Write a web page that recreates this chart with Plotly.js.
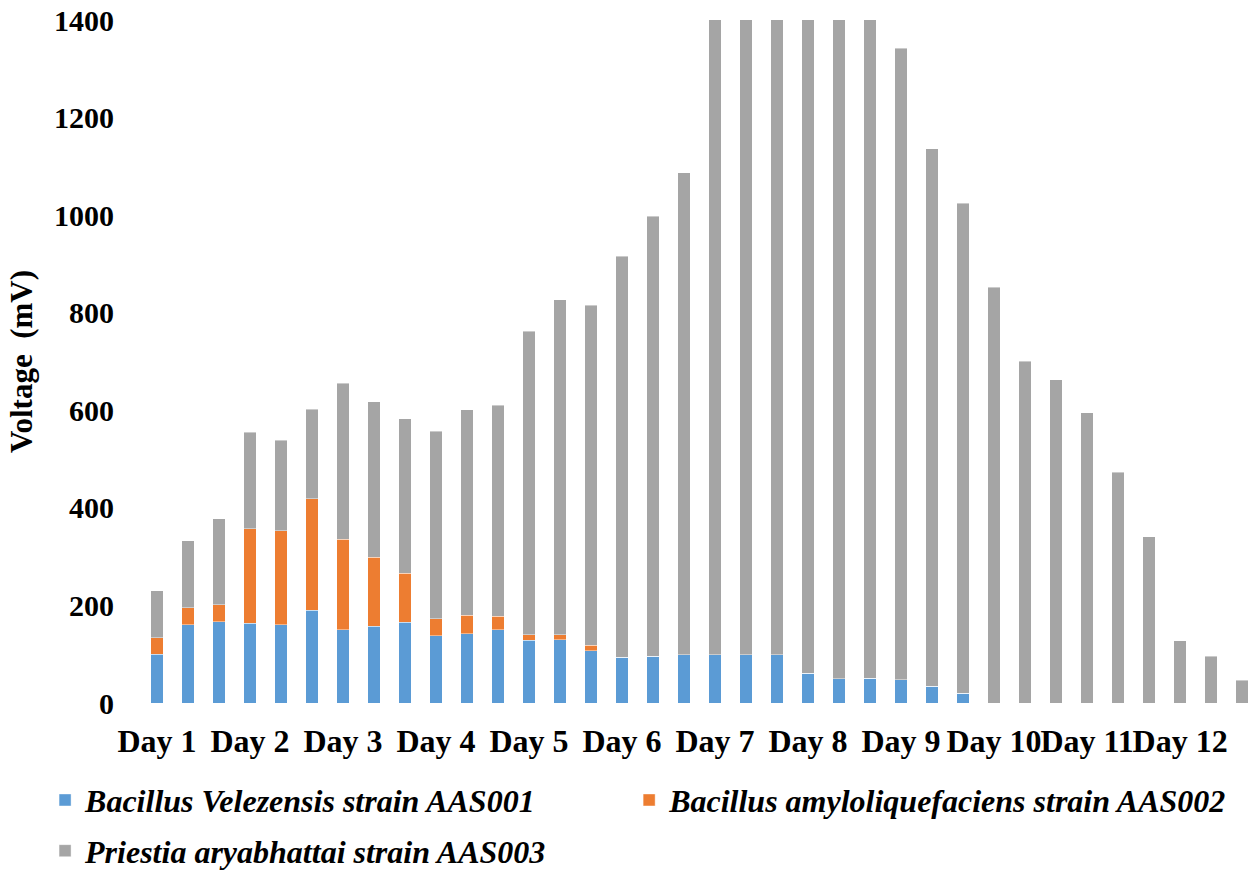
<!DOCTYPE html>
<html>
<head>
<meta charset="utf-8">
<script src="https://cdn.plot.ly/plotly-3.0.1.min.js"></script>
<style>
  html, body { margin: 0; padding: 0; background: #ffffff; }
  #chart { width: 1252px; height: 871px; }
</style>
</head>
<body>
<div id="chart"></div>
<script>
// Three readings per day over twelve days
const days = ["Day 1", "Day 2", "Day 3", "Day 4", "Day 5", "Day 6",
              "Day 7", "Day 8", "Day 9", "Day 10", "Day 11", "Day 12"];
const readingsPerDay = 3;

const seriesNames = [
  "Bacillus Velezensis strain AAS001",
  "Bacillus amyloliquefaciens strain AAS002",
  "Priestia aryabhattai strain AAS003"
];

// Voltage (mV) contributed by each strain, stacked
const velezensis = [100, 160, 167, 163, 160, 190, 150, 157, 166, 138, 142, 150,
                    129, 130, 107, 94, 96, 99, 99, 99, 99, 61, 50, 51,
                    48, 34, 20, 0, 0, 0, 0, 0, 0, 0, 0, 0];
const amyloliquefaciens = [34, 35, 34, 194, 193, 229, 186, 142, 100, 35, 38, 28,
                           11, 10, 11, 0, 0, 0, 0, 0, 0, 0, 0, 0,
                           0, 0, 0, 0, 0, 0, 0, 0, 0, 0, 0, 0];
const aryabhattai = [96, 138, 177, 198, 186, 183, 319, 318, 317, 384, 421, 432,
                     622, 687, 697, 822, 902, 988, 1321, 1361, 1401, 1429, 1400, 1359,
                     1294, 1102, 1004, 852, 701, 663, 595, 473, 341, 128, 96, 47];

const colors = ["#5B9BD5", "#ED7D31", "#A5A5A5"];
const values = [velezensis, amyloliquefaciens, aryabhattai];
const legendOf = ["legend", "legend2", "legend3"];

const positions = velezensis.map((_, i) => i);
const tickPositions = days.map((_, d) => d * readingsPerDay);

const serif = "Liberation Serif, Times New Roman, serif";

const traces = values.map((v, k) => ({
  type: "bar",
  name: "<i>" + seriesNames[k] + "</i>",
  legend: legendOf[k],
  x: positions,
  y: v,
  marker: { color: colors[k], line: { color: "rgba(255,255,255,0.7)", width: 0.6 } },
  hoverinfo: "y"
}));

const legendFont = { family: serif, size: 32, weight: "bold", color: "#000000" };
const legendBase = {
  orientation: "h",
  xref: "container",
  yref: "container",
  xanchor: "left",
  yanchor: "top",
  font: legendFont,
  bgcolor: "rgba(0,0,0,0)"
};

const layout = {
  width: 1252,
  height: 871,
  barmode: "stack",
  bargap: 0.6,
  paper_bgcolor: "#ffffff",
  plot_bgcolor: "#ffffff",
  margin: { l: 141, r: 0, t: 20, b: 168 },
  font: { family: serif, color: "#000000" },
  xaxis: {
    type: "linear",
    range: [-0.516, 35.32],
    tickmode: "array",
    tickvals: tickPositions,
    ticktext: days,
    tickangle: 0,
    ticks: "",
    showgrid: false,
    zeroline: false,
    showline: false,
    ticklabelstandoff: 16,
    tickfont: { family: serif, size: 32, weight: "bold", color: "#000000" }
  },
  yaxis: {
    range: [0, 1400],
    dtick: 200,
    ticks: "",
    showgrid: false,
    zeroline: false,
    showline: false,
    ticklabelstandoff: 26,
    tickfont: { family: serif, size: 30, weight: "bold", color: "#000000" },
    title: {
      text: "Voltage  (mV)",
      standoff: 12,
      font: { family: serif, size: 31, weight: "bold", color: "#000000" }
    }
  },
  showlegend: true,
  legend: Object.assign({}, legendBase, { x: 0.036, y: 0.1129 }),
  legend2: Object.assign({}, legendBase, { x: 0.5025, y: 0.1129 }),
  legend3: Object.assign({}, legendBase, { x: 0.036, y: 0.0547 })
};

Plotly.newPlot("chart", traces, layout, { displayModeBar: false, staticPlot: true });
</script>
</body>
</html>
